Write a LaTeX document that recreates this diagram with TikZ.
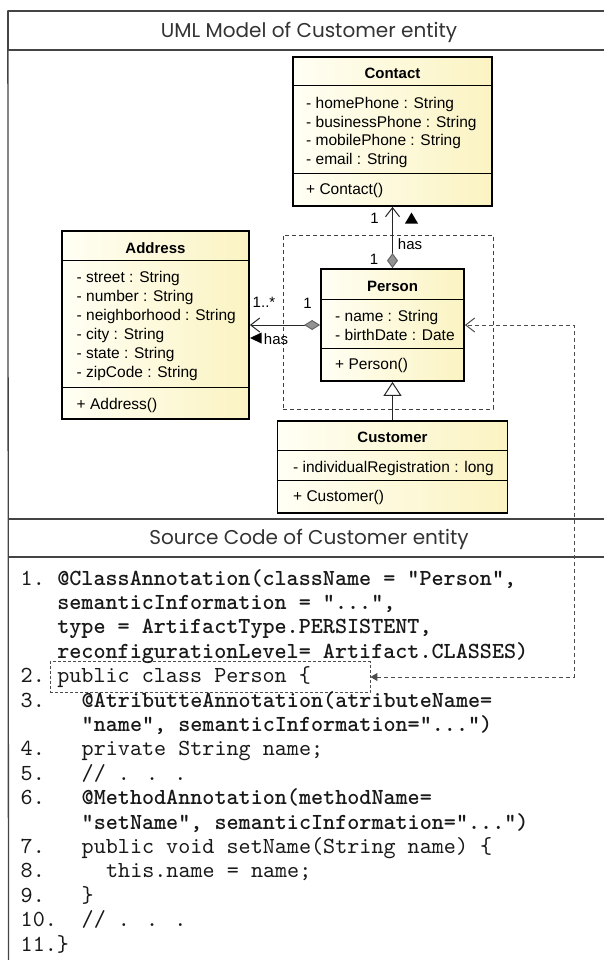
\documentclass[tikz,border=0pt]{standalone}
\usepackage{fontspec}
\usetikzlibrary{arrows.meta}
\newfontfamily\umlfont{Liberation Sans}
\newfontfamily\titlefont{Poppins}
\newfontfamily\codefont{lmmono10-regular.otf}[BoldFont=lmmonolt10-bold.otf, Ligatures=TeXOff]
\definecolor{umlA}{HTML}{FFFFF4}
\definecolor{umlB}{HTML}{FBF3C2}
\definecolor{framegray}{HTML}{444444}
\tikzset{
  classbox/.style={draw=black, line width=1.8pt, left color=umlA, right color=umlB, inner sep=0pt},
  sepline/.style={line width=1pt, black},
  member/.style={anchor=west, inner sep=0pt, text height=11.1pt, text depth=0pt,
    font=\umlfont\fontsize{15.5}{18}\selectfont},
  cname/.style={inner sep=0pt, text height=11.1pt, text depth=0pt,
    font=\umlfont\bfseries\fontsize{15}{18}\selectfont},
  lbl/.style={inner sep=0pt, text height=10.8pt, text depth=0pt,
    font=\umlfont\fontsize{15}{18}\selectfont},
  link/.style={line width=1pt, black!85},
  dashlink/.style={line width=1pt, black!70, dash pattern=on 4pt off 3pt},
  head/.style={draw=framegray, line width=1.3pt, minimum width=601pt, inner sep=0pt,
    text height=13.6pt, text depth=0pt, text=black!80,
    font=\titlefont\fontsize{20}{23}\selectfont},
  codenum/.style={anchor=west, inner sep=0pt, text height=14pt, text depth=0pt, text=black!90,
    font=\codefont\fontsize{23}{24}\selectfont},
  codetxt/.style={codenum},
}
\begin{document}
\begin{tikzpicture}[x=1pt, y=-1pt]
\useasboundingbox (0,0) rectangle (604,960);
\clip (0,0) rectangle (604,960);
\fill[white] (0,0) rectangle (604,960);

% frame: header rows and left border
\node[head, minimum height=39pt] (umlhead) at (309,30.5) {UML Model of Customer entity};
\node[head, minimum height=38pt] (codehead) at (309,538) {Source Code of Customer entity};
\draw[framegray, line width=1.3pt] (umlhead.north west) -- (8.5,965);

% dashed grouping around Person
\node[draw=black!75, line width=0.9pt, dash pattern=on 4pt off 3pt,
      minimum width=210pt, minimum height=174pt, inner sep=0pt] (focus) at (388,322) {};

% ---------- Contact ----------
\node[classbox, minimum width=199pt, minimum height=149pt] (contact) at (392.5,131.5) {};
\draw[sepline] (contact.west |- 0,85.5) -- (contact.east |- 0,85.5);
\draw[sepline] (contact.west |- 0,174) -- (contact.east |- 0,174);
\node[cname] (contactT) at (392.5,73) {Contact};
\node[member] (ct1) at (306,103) {- homePhone : String};
\node[member] (ct2) at (306,121.7) {- businessPhone : String};
\node[member] (ct3) at (306,140.3) {- mobilePhone : String};
\node[member] (ct4) at (306,159) {- email : String};
\node[member] (ct5) at (306,189) {+ Contact()};

% ---------- Address ----------
\node[classbox, minimum width=187pt, minimum height=188pt] (address) at (155.5,325) {};
\draw[sepline] (address.west |- 0,260) -- (address.east |- 0,260);
\draw[sepline] (address.west |- 0,387) -- (address.east |- 0,387);
\node[cname] (addressT) at (155.5,247.5) {Address};
\node[member] (ad1) at (76.5,277.3) {- street : String};
\node[member] (ad2) at (76.5,296.3) {- number : String};
\node[member] (ad3) at (76.5,315.3) {- neighborhood : String};
\node[member] (ad4) at (76.5,334.3) {- city : String};
\node[member] (ad5) at (76.5,353.3) {- state : String};
\node[member] (ad6) at (76.5,372.3) {- zipCode : String};
\node[member] (ad7) at (76.5,403.5) {+ Address()};

% ---------- Person ----------
\node[classbox, minimum width=143pt, minimum height=112pt] (person) at (392.5,325) {};
\draw[sepline] (person.west |- 0,299) -- (person.east |- 0,299);
\draw[sepline] (person.west |- 0,348) -- (person.east |- 0,348);
\node[cname] (personT) at (392.5,285.5) {Person};
\node[member] (pe1) at (335,316) {- name : String};
\node[member] (pe2) at (335,334.7) {- birthDate : Date};
\node[member] (pe3) at (335,364) {+ Person()};

% ---------- Customer ----------
\node[classbox, minimum width=230pt, minimum height=92pt] (customer) at (392.5,467) {};
\draw[sepline] (customer.west |- 0,450) -- (customer.east |- 0,450);
\draw[sepline] (customer.west |- 0,480) -- (customer.east |- 0,480);
\node[cname] (customerT) at (392.5,437) {Customer};
\node[member] (cu1) at (293,466.5) {- individualRegistration : long};
\node[member] (cu2) at (293,496) {+ Customer()};

% ---------- associations ----------
\draw[link, {Diamond[length=15pt,width=11pt,fill=gray!85,color=black!60]}-{Straight Barb[length=9pt,width=14pt]}]
  (person.north) -- (contact.south);
\draw[link, {Diamond[length=16pt,width=10pt,fill=gray!85,color=black!60]}-{Straight Barb[length=9pt,width=14pt]}]
  (person.west) -- (address.east);
\draw[link, -{Triangle[open,length=14pt,width=18pt,fill=white]}]
  (customer.north) -- (person.south);

% multiplicities, role names and reading direction marks
\node[lbl] (mc) at (374.5,218) {1};
\node[lbl] (mp) at (374,259) {1};
\node[lbl] (hasup) at (410,244) {has};
\node[lbl] (ma) at (264,302.5) {1..*};
\node[lbl] (mpl) at (307.5,303) {1};
\node[lbl] (hasleft) at (276,339) {has};
\fill[black] (405,223.5) -- (418,223.5) -- (411.5,212.5) -- cycle;
\fill[black] (250,338) -- (261.5,332.5) -- (261.5,343.5) -- cycle;

% ---------- source code ----------
\node[draw=black!70, line width=0.9pt, dash pattern=on 3pt off 2pt,
      minimum width=320pt, minimum height=31pt, inner sep=0pt] (codebox) at (210,677) {};
\coordinate (bend) at (574,325);
\draw[dashlink, {Triangle[length=7pt,width=8pt]}-{Straight Barb[length=9pt,width=14pt]}]
  (codebox.east) -| (bend) -- (person.east);

\node[codenum] (n1)  at (20.5,578)   {1.};
\node[codetxt] (l1)  at (57.1,578)   {\bfseries @ClassAnnotation(className = "Person",};
\node[codetxt] (l1b) at (57.1,602.4) {\bfseries semanticInformation = "...",};
\node[codetxt] (l1c) at (57.1,626.8) {\bfseries type = ArtifactType.PERSISTENT,};
\node[codetxt] (l1d) at (57.1,651.2) {\bfseries reconfigurationLevel= Artifact.CLASSES)};
\node[codenum] (n2)  at (20.5,675.6) {2.};
\node[codetxt] (l2)  at (57.1,675.6) {public class Person \{};
\node[codenum] (n3)  at (20.5,700)   {3.};
\node[codetxt] (l3)  at (81.5,700)   {\bfseries @AtributteAnnotation(atributeName=};
\node[codetxt] (l3b) at (81.5,724.4) {\bfseries "name", semanticInformation="...")};
\node[codenum] (n4)  at (20.5,748.8) {4.};
\node[codetxt] (l4)  at (81.5,748.8) {private String name;};
\node[codenum] (n5)  at (20.5,773.2) {5.};
\node[codetxt] (l5)  at (81.5,773.2) {// . . .};
\node[codenum] (n6)  at (20.5,797.6) {6.};
\node[codetxt] (l6)  at (81.5,797.6) {\bfseries @MethodAnnotation(methodName=};
\node[codetxt] (l6b) at (81.5,822)   {\bfseries "setName", semanticInformation="...")};
\node[codenum] (n7)  at (20.5,846.4) {7.};
\node[codetxt] (l7)  at (81.5,846.4) {public void setName(String name) \{};
\node[codenum] (n8)  at (20.5,870.8) {8.};
\node[codetxt] (l8)  at (105.9,870.8) {this.name = name;};
\node[codenum] (n9)  at (20.5,895.2) {9.};
\node[codetxt] (l9)  at (81.5,895.2) {\}};
\node[codenum] (n10) at (20.5,919.6) {10.};
\node[codetxt] (l10) at (81.5,919.6) {// . . .};
\node[codenum] (n11) at (20.5,944)   {11.\}};
\end{tikzpicture}
\end{document}
